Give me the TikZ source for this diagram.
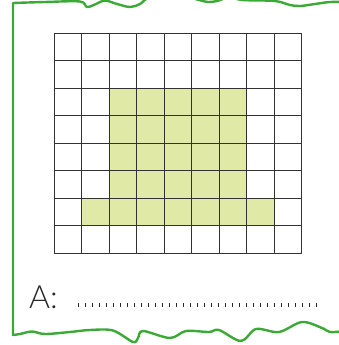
\documentclass[tikz,border=0pt]{standalone}
\usepackage{fontspec}
\setmainfont{Lato Light}
\begin{document}
\begin{tikzpicture}[x=1pt,y=-1pt,
  frame/.style={draw=green!60!black!70!green, color={rgb,255:red,58;green,170;blue,53}, line width=2.4pt, line cap=round, line join=round},
  gridline/.style={draw={rgb,255:red,50;green,50;blue,50}, line width=0.9pt},
  shade/.style={fill={rgb,255:red,225;green,233;blue,167}}]
\useasboundingbox (0,0) rectangle (339,345);
\begin{scope}
\clip (0,0) rectangle (339,345);
% shaded cells
\def\cs{27.5}
\foreach \r in {2,...,5}{
  \foreach \c in {2,...,6}{
    \fill[shade] (54+\c*\cs,33+\r*\cs) rectangle ++(\cs,\cs);
  }
}
\foreach \c in {1,...,7}{
  \fill[shade] (54+\c*\cs,33+6*\cs) rectangle ++(\cs,\cs);
}
% grid
\foreach \i in {0,...,9}{
  \draw[gridline] (54+\i*\cs,33) -- (54+\i*\cs,253);
}
\foreach \j in {0,...,8}{
  \draw[gridline] (54,33+\j*\cs) -- (301.5,33+\j*\cs);
}
% frame
\draw[frame] (13,335) -- (13,3) plot[smooth, tension=0.55] coordinates {(13,3) (45,2) (80,1.5) (87,7) (96,4) (105,0.5) (117,4) (130,7) (140,4) (150,-3) (175,-6) (199,0) (208,2) (217,1) (230,-3) (242,0) (275,1) (290,5) (300,6) (315,4) (330,2) (345,2)};
\draw[frame] plot[smooth, tension=0.55] coordinates {(13,335) (20,334) (32,331.5) (45,334) (70,332) (90,330) (113,330.5) (133,342) (138,338) (143,331) (170,338) (186,331) (209,332) (219,330) (241,341) (256,329) (279,332) (302,322) (322,328) (330,332) (345,331)};
\end{scope}
% answer line
\node[anchor=base west, inner sep=0pt, font=\fontsize{32}{32}\selectfont, text={rgb,255:red,40;green,40;blue,40}] (ans) at (29,308) {A:};
\foreach \k in {0,...,34}{
  \fill[black!85] (77.5+\k*7,302.5) rectangle ++(1.8,4);
}
\end{tikzpicture}
\end{document}
